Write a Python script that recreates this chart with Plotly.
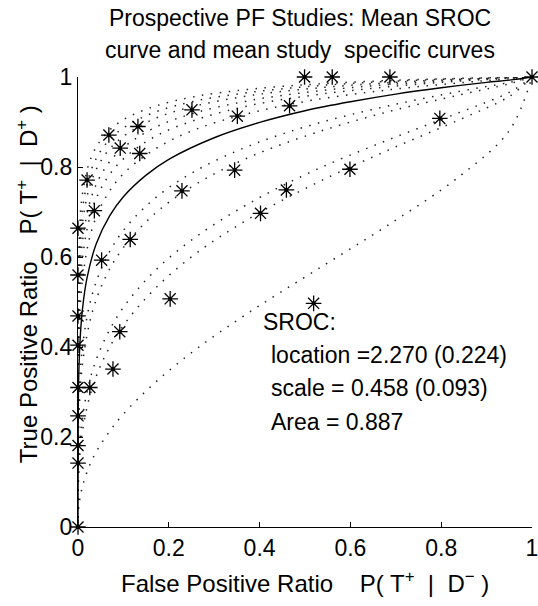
import plotly.graph_objects as go

# ---- study points (FPR, TPR) ----
study_fpr = [0, 0, 0, 0, 0, 0.026, 0, 0, 0, 0, 0.020, 0.036, 0.052, 0.068,
             0.077, 0.092, 0.093, 0.115, 0.132, 0.136, 0.203, 0.229, 0.251,
             0.345, 0.351, 0.402, 0.459, 0.466, 0.499, 0.519, 0.560, 0.599,
             0.687, 0.797, 1.0]
study_tpr = [0, 0.142, 0.181, 0.247, 0.310, 0.310, 0.404, 0.469, 0.560, 0.664,
             0.771, 0.703, 0.593, 0.871, 0.351, 0.434, 0.842, 0.639, 0.890,
             0.830, 0.507, 0.747, 0.927, 0.793, 0.913, 0.697, 0.749, 0.936,
             1.0, 0.497, 1.0, 0.795, 1.0, 0.908, 1.0]

# ---- mean SROC curve ----
sroc_fpr = [0, 0.0005, 0.002, 0.005, 0.01, 0.02, 0.04, 0.07, 0.1, 0.15, 0.2,
            0.3, 0.4, 0.5, 0.6, 0.7, 0.8, 0.9, 0.95, 1.0]
sroc_tpr = [0, 0.259, 0.350, 0.423, 0.486, 0.554, 0.629, 0.692, 0.734, 0.782,
            0.817, 0.865, 0.899, 0.925, 0.945, 0.962, 0.976, 0.988, 0.993, 1.0]

# ---- mean study specific curves (dotted), shared FPR grid ----
curve_fpr = [0, 0.002, 0.01, 0.03, 0.06, 0.1, 0.17, 0.26, 0.38, 0.52, 0.68,
             0.84, 0.95, 1.0]
study_curves = [
    [0, 0.617, 0.741, 0.824, 0.872, 0.905, 0.935, 0.957, 0.973, 0.984, 0.992, 0.997, 0.999, 1],
    [0, 0.578, 0.708, 0.796, 0.850, 0.887, 0.922, 0.947, 0.966, 0.980, 0.990, 0.996, 0.999, 1],
    [0, 0.543, 0.677, 0.770, 0.828, 0.868, 0.908, 0.936, 0.959, 0.975, 0.987, 0.995, 0.998, 1],
    [0, 0.499, 0.636, 0.735, 0.798, 0.843, 0.888, 0.921, 0.948, 0.968, 0.983, 0.993, 0.998, 1],
    [0, 0.459, 0.598, 0.702, 0.769, 0.818, 0.868, 0.905, 0.937, 0.960, 0.978, 0.991, 0.997, 1],
    [0, 0.412, 0.551, 0.659, 0.731, 0.785, 0.840, 0.884, 0.920, 0.949, 0.971, 0.987, 0.996, 1],
    [0, 0.274, 0.401, 0.512, 0.593, 0.659, 0.731, 0.792, 0.848, 0.895, 0.935, 0.968, 0.988, 1],
    [0, 0.241, 0.362, 0.472, 0.554, 0.621, 0.697, 0.762, 0.823, 0.875, 0.922, 0.960, 0.985, 1],
    [0, 0.149, 0.244, 0.341, 0.419, 0.488, 0.570, 0.645, 0.721, 0.792, 0.859, 0.921, 0.966, 1],
    [0, 0.127, 0.214, 0.305, 0.381, 0.448, 0.530, 0.608, 0.687, 0.762, 0.836, 0.905, 0.957, 1],
    [0, 0.046, 0.091, 0.147, 0.199, 0.251, 0.321, 0.395, 0.479, 0.568, 0.669, 0.779, 0.881, 1],
]

tick_vals = [0, 0.2, 0.4, 0.6, 0.8, 1]
tick_text = ['0', '0.2', '0.4', '0.6', '0.8', '1']

title_lines = ['Prospective PF Studies: Mean SROC',
               'curve and mean study  specific curves']
sroc_text = ['SROC:', 'location =2.270 (0.224)', 'scale = 0.458 (0.093)',
             'Area = 0.887']

FONT = 'Liberation Sans, Arial, Helvetica, sans-serif'

fig = go.Figure()

for ys in study_curves:
    fig.add_trace(go.Scatter(x=curve_fpr, y=ys, mode='lines',
                             line=dict(color='#222', width=1.5, dash='1.5px,7.5px',
                                       shape='spline', smoothing=1.0),
                             hoverinfo='skip', showlegend=False))

fig.add_trace(go.Scatter(x=sroc_fpr, y=sroc_tpr, mode='lines',
                         line=dict(color='black', width=1.4, shape='spline',
                                   smoothing=1.0),
                         showlegend=False))

fig.add_trace(go.Scatter(x=study_fpr, y=study_tpr, mode='markers',
                         marker=dict(symbol='asterisk-open', size=13, color='black',
                                     line=dict(color='black', width=1.3)),
                         cliponaxis=False, showlegend=False))
fig.add_trace(go.Scatter(x=study_fpr, y=study_tpr, mode='markers',
                         marker=dict(symbol='square', size=3.5, color='black'),
                         cliponaxis=False, showlegend=False, hoverinfo='skip'))

axis_style = dict(range=[0, 1], tickvals=tick_vals, ticktext=tick_text,
                  showgrid=False, zeroline=False, showline=True,
                  linecolor='black', linewidth=1.2, ticks='inside',
                  ticklen=5, tickcolor='black', tickfont=dict(size=23, color='black'),
                  mirror=False, automargin=False, ticklabeloverflow='allow')

fig.update_layout(
    width=538, height=606,
    margin=dict(l=78, r=6, t=77, b=79),
    paper_bgcolor='white', plot_bgcolor='white',
    font=dict(family=FONT, color='black'),
    xaxis=axis_style,
    yaxis=axis_style,
)

# title lines
for i, line in enumerate(title_lines):
    fig.add_annotation(text=line, xref='paper', yref='paper', x=0.49,
                       y=(527 - 18 - 32 * i) / 450, xanchor='center',
                       yanchor='middle', showarrow=False,
                       font=dict(size=23, color='black'))

# axis titles
fig.add_annotation(text='False Positive Ratio    P( T<sup>+</sup>  |  D<sup>\u2212</sup> )',
                   xref='paper', yref='paper', x=0.5, y=-0.122,
                   xanchor='center', yanchor='middle', showarrow=False,
                   font=dict(size=24, color='black'))
fig.add_annotation(text='True Positive Ratio    P( T<sup>+</sup>  |  D<sup>+</sup> )',
                   xref='paper', yref='paper', x=-0.112, y=0.54,
                   xanchor='center', yanchor='middle', textangle=-90,
                   showarrow=False, font=dict(size=24, color='black'))

# SROC summary text
text_x = [0.403, 0.42, 0.42, 0.42]
text_y = [0.456, 0.382, 0.309, 0.233]
for t, tx, ty in zip(sroc_text, text_x, text_y):
    fig.add_annotation(text=t, x=tx, y=ty, xref='x', yref='y',
                       xanchor='left', yanchor='middle', showarrow=False,
                       font=dict(size=23, color='black'))

# drop the default 8px body margin so the figure fills the window exactly
fig.write_html('out.html', config={'displayModeBar': False},
               post_script="document.body.style.margin='0';")
